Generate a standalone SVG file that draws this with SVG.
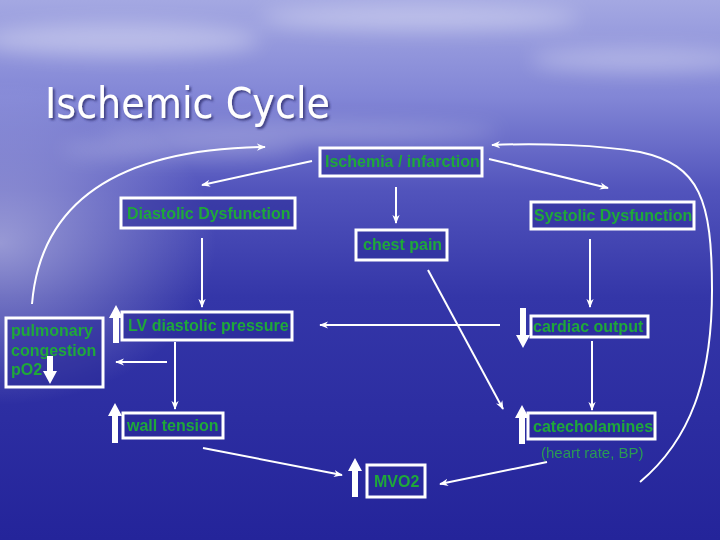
<svg xmlns="http://www.w3.org/2000/svg" width="720" height="540" viewBox="0 0 720 540">
<defs>
<linearGradient id="bg" x1="0" y1="0" x2="0" y2="1">
<stop offset="0" stop-color="#a4a8e2"/>
<stop offset="0.18" stop-color="#8286d6"/>
<stop offset="0.35" stop-color="#5254bc"/>
<stop offset="0.55" stop-color="#3436a8"/>
<stop offset="1" stop-color="#24249a"/>
</linearGradient>
<radialGradient id="glow" cx="0" cy="0.45" r="0.3">
<stop offset="0" stop-color="#ffffff" stop-opacity="0.45"/>
<stop offset="1" stop-color="#ffffff" stop-opacity="0"/>
</radialGradient>
<filter id="blur" x="-50%" y="-50%" width="200%" height="200%"><feGaussianBlur stdDeviation="10"/></filter>
<filter id="sh" x="-10%" y="-10%" width="130%" height="140%"><feDropShadow dx="2" dy="2" stdDeviation="1" flood-color="#303070" flood-opacity="0.8"/></filter>
<marker id="ah" viewBox="0 0 10 10" refX="9" refY="5" markerWidth="9" markerHeight="9" orient="auto" markerUnits="userSpaceOnUse">
<path d="M0,1 L10,5 L0,9 L3,5 z" fill="#ffffff"/>
</marker>
<style>
.box{fill:#2a2a98;fill-opacity:0.55;stroke:#ffffff;stroke-width:3}
.t{font-family:"Liberation Sans",Arial,sans-serif;font-size:16px;font-weight:bold;fill:#1fa83a}
.sub{font-family:"Liberation Sans",Arial,sans-serif;font-size:15px;fill:#2a9a55}
.ca{fill:none;stroke:#ffffff;stroke-width:2;marker-end:url(#ah)}
.blk{fill:#ffffff}
</style>
</defs>
<rect width="720" height="540" fill="url(#bg)"/>
<rect width="720" height="540" fill="url(#glow)"/>
<g filter="url(#blur)" fill="#ffffff">
<ellipse cx="120" cy="40" rx="140" ry="16" opacity="0.35"/>
<ellipse cx="420" cy="18" rx="160" ry="12" opacity="0.35"/>
<ellipse cx="300" cy="132" rx="200" ry="10" opacity="0.25"/>
<ellipse cx="640" cy="60" rx="110" ry="12" opacity="0.3"/>
<ellipse cx="180" cy="150" rx="120" ry="8" opacity="0.25"/>
</g>
<text x="45" y="118" font-family="'DejaVu Sans',Tahoma,sans-serif" font-size="42" fill="#ffffff" textLength="285" lengthAdjust="spacingAndGlyphs" filter="url(#sh)">Ischemic Cycle</text>

<g id="ischemia"><rect class="box" x="320" y="148" width="162" height="28"/><text class="t" x="325" y="167">Ischemia / infarction</text></g>
<g id="diastolic"><rect class="box" x="121" y="198" width="174" height="30"/><text class="t" x="127" y="219">Diastolic Dysfunction</text></g>
<g id="systolic"><rect class="box" x="531" y="202" width="163" height="27"/><text class="t" x="534" y="221">Systolic Dysfunction</text></g>
<g id="chestpain"><rect class="box" x="356" y="230" width="91" height="30"/><text class="t" x="363" y="250">chest pain</text></g>
<g id="pulmonary"><rect class="box" x="6" y="318" width="97" height="69"/><text class="t" x="11" y="336">pulmonary</text><text class="t" x="11" y="356">congestion</text><text class="t" x="11" y="375">pO2</text></g>
<g id="lvpressure"><rect class="box" x="122" y="312" width="170" height="28"/><text class="t" x="128" y="331">LV diastolic pressure</text></g>
<g id="cardiac"><rect class="box" x="531" y="316" width="117" height="21"/><text class="t" x="533" y="332">cardiac output</text></g>
<g id="wall"><rect class="box" x="123" y="413" width="100" height="25"/><text class="t" x="127" y="431">wall tension</text></g>
<g id="catecholamines"><rect class="box" x="528" y="413" width="127" height="26"/><text class="t" x="533" y="432">catecholamines</text><text class="sub" x="541" y="458">(heart rate, BP)</text></g>
<g id="mvo2"><rect class="box" x="367" y="465" width="58" height="32"/><text class="t" x="374" y="487">MVO2</text></g>

<g id="connectors">
<line class="ca" x1="312" y1="161" x2="202" y2="185"/>
<line class="ca" x1="489" y1="159" x2="608" y2="188"/>
<line class="ca" x1="396" y1="187" x2="396" y2="223"/>
<line class="ca" x1="202" y1="238" x2="202" y2="307"/>
<line class="ca" x1="590" y1="239" x2="590" y2="307"/>
<line class="ca" x1="500" y1="325" x2="320" y2="325"/>
<line class="ca" x1="167" y1="362" x2="116" y2="362"/>
<line class="ca" x1="175" y1="342" x2="175" y2="409"/>
<line class="ca" x1="428" y1="270" x2="503" y2="409"/>
<line class="ca" x1="592" y1="341" x2="592" y2="410"/>
<line class="ca" x1="203" y1="448" x2="342" y2="475"/>
<line class="ca" x1="547" y1="462" x2="440" y2="484"/>
<path class="ca" d="M32,304 Q45,150 265,147"/>
<path class="ca" d="M640,482 C690,440 712,380 712,290 C712,200 700,165 640,152 C600,145 540,143 492,145"/>
<polygon class="blk" points="113,343 119,343 119,318 123,318 116,305 109,318 113,318"/>
<polygon class="blk" points="47,356 53,356 53,371 57,371 50,384 43,371 47,371"/>
<polygon class="blk" points="520,308 526,308 526,335 530,335 523,348 516,335 520,335"/>
<polygon class="blk" points="112,443 118,443 118,416 122,416 115,403 108,416 112,416"/>
<polygon class="blk" points="519,444 525,444 525,418 529,418 522,405 515,418 519,418"/>
<polygon class="blk" points="352,497 358,497 358,471 362,471 355,458 348,471 352,471"/>
</g>
</svg>
